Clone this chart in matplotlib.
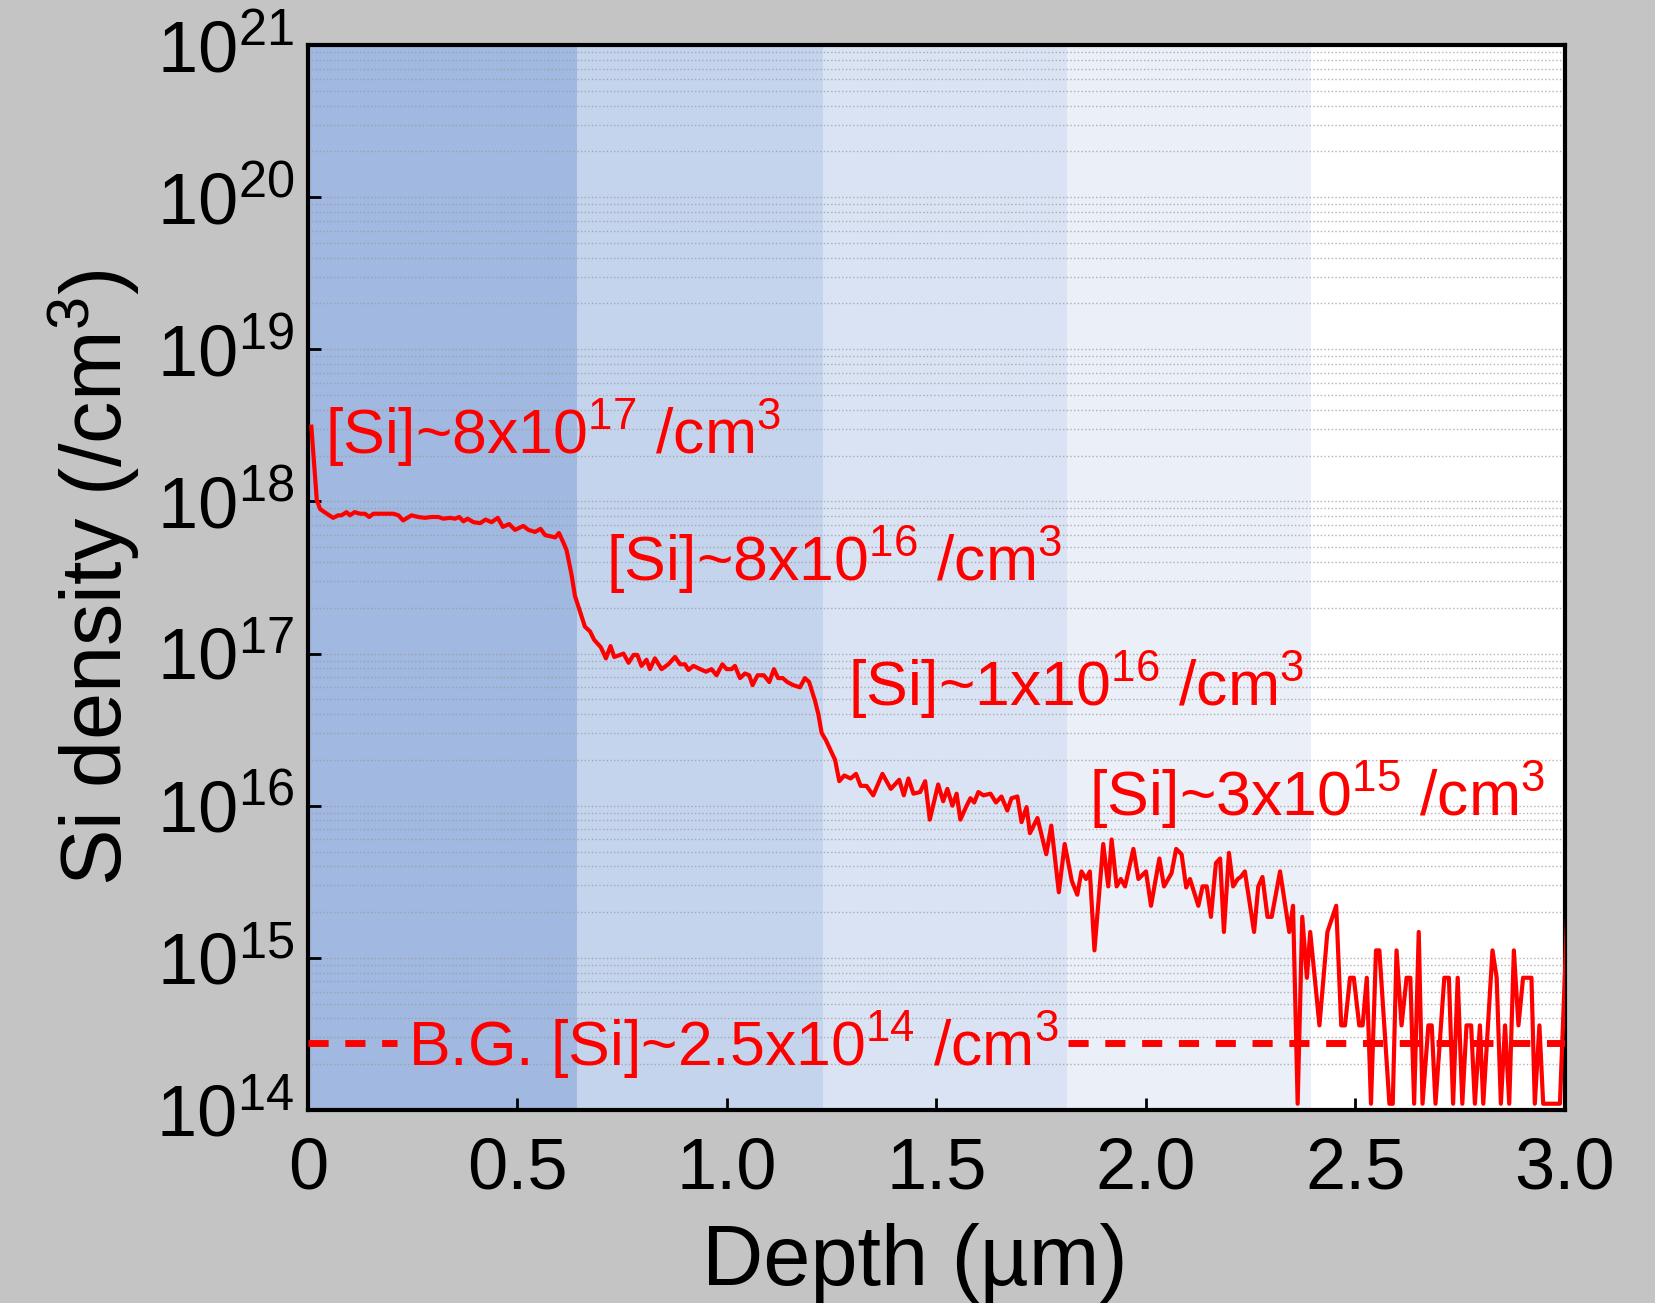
#!/usr/bin/env python
"""
Si depth profile (SIMS) with shaded layers
"""

import math
import matplotlib
matplotlib.use('Agg')
import matplotlib.pyplot as plt
from matplotlib.ticker import FixedLocator, FixedFormatter, LogLocator, NullFormatter, FuncFormatter

# depth (um) and Si density (/cm3)
depth = [0.008, 0.021, 0.029, 0.045, 0.060, 0.072, 0.080, 0.092, 0.100, 0.111,
         0.124, 0.136, 0.146, 0.156, 0.172, 0.188, 0.204, 0.216, 0.227, 0.247,
         0.263, 0.279, 0.295, 0.311, 0.323, 0.339, 0.351, 0.361, 0.371, 0.381,
         0.395, 0.411, 0.424, 0.438, 0.453, 0.465, 0.480, 0.494, 0.514, 0.526,
         0.542, 0.555, 0.566, 0.579, 0.590, 0.599, 0.609, 0.617, 0.629, 0.637,
         0.649, 0.661, 0.673, 0.683, 0.699, 0.711, 0.722, 0.731, 0.745, 0.753,
         0.765, 0.777, 0.786, 0.796, 0.808, 0.816, 0.828, 0.844, 0.860, 0.876,
         0.888, 0.900, 0.908, 0.920, 0.936, 0.950, 0.963, 0.975, 0.989, 0.999,
         1.011, 1.019, 1.031, 1.043, 1.053, 1.061, 1.073, 1.088, 1.101, 1.112,
         1.122, 1.133, 1.144, 1.158, 1.174, 1.186, 1.196, 1.210, 1.218, 1.226,
         1.236, 1.258, 1.268, 1.280, 1.295, 1.308, 1.319, 1.333, 1.349, 1.371,
         1.391, 1.411, 1.422, 1.433, 1.445, 1.461, 1.473, 1.484, 1.504, 1.516,
         1.526, 1.538, 1.548, 1.557, 1.572, 1.581, 1.590, 1.600, 1.612, 1.629,
         1.642, 1.655, 1.669, 1.679, 1.693, 1.703, 1.715, 1.723, 1.741, 1.762,
         1.774, 1.792, 1.806, 1.823, 1.836, 1.846, 1.857, 1.866, 1.877, 1.898,
         1.910, 1.918, 1.930, 1.940, 1.950, 1.970, 1.982, 2.000, 2.012, 2.032,
         2.043, 2.061, 2.072, 2.085, 2.096, 2.105, 2.125, 2.135, 2.145, 2.155,
         2.167, 2.177, 2.186, 2.198, 2.208, 2.219, 2.226, 2.236, 2.258, 2.268,
         2.278, 2.290, 2.300, 2.320, 2.342, 2.351, 2.362, 2.373, 2.384, 2.392,
         2.414, 2.433, 2.454, 2.466, 2.475, 2.487, 2.496, 2.509, 2.517, 2.527,
         2.537, 2.549, 2.557, 2.581, 2.589, 2.598, 2.610, 2.622, 2.631, 2.640,
         2.651, 2.660, 2.674, 2.682, 2.691, 2.712, 2.723, 2.733, 2.744, 2.755,
         2.765, 2.776, 2.785, 2.797, 2.805, 2.827, 2.837, 2.847, 2.857, 2.867,
         2.878, 2.889, 2.900, 2.920, 2.928, 2.939, 2.948, 2.988, 3.005]

si = [3.1e18, 1.02e18, 8.9e17, 8.3e17, 7.8e17, 8.1e17, 8.1e17, 8.5e17, 8.1e17, 8.5e17,
      8.3e17, 8.3e17, 7.9e17, 8.3e17, 8.3e17, 8.3e17, 8.3e17, 8.1e17, 7.5e17, 8.1e17,
      7.9e17, 7.8e17, 7.9e17, 7.9e17, 7.7e17, 7.8e17, 7.7e17, 7.9e17, 7.4e17, 7.7e17,
      7.3e17, 7.2e17, 7.6e17, 7.3e17, 7.8e17, 6.8e17, 7.1e17, 6.5e17, 6.9e17, 6.5e17,
      6.3e17, 6.6e17, 6.0e17, 5.9e17, 5.8e17, 6.2e17, 5.4e17, 4.8e17, 3.3e17, 2.4e17,
      1.9e17, 1.5e17, 1.4e17, 1.23e17, 1.10e17, 9.3e16, 1.12e17, 9.5e16, 9.8e16, 1.0e17,
      8.7e16, 9.8e16, 9.8e16, 8.3e16, 9.1e16, 7.9e16, 9.3e16, 7.9e16, 8.5e16, 9.5e16,
      8.5e16, 8.5e16, 7.8e16, 8.3e16, 7.9e16, 7.6e16, 7.9e16, 7.2e16, 8.5e16, 7.9e16,
      7.9e16, 8.3e16, 6.9e16, 7.4e16, 7.2e16, 6.2e16, 7.2e16, 7.2e16, 6.5e16, 7.9e16,
      6.9e16, 6.9e16, 6.5e16, 6.2e16, 6.0e16, 6.9e16, 6.5e16, 4.9e16, 4.0e16, 3.0e16,
      2.7e16, 2.0e16, 1.45e16, 1.58e16, 1.51e16, 1.62e16, 1.35e16, 1.35e16, 1.17e16, 1.62e16,
      1.29e16, 1.48e16, 1.17e16, 1.51e16, 1.20e16, 1.23e16, 1.45e16, 8.1e15, 1.38e16, 1.07e16,
      1.29e16, 1.0e16, 1.20e16, 8.1e15, 1.0e16, 1.12e16, 1.05e16, 1.23e16, 1.17e16, 1.20e16,
      1.05e16, 1.15e16, 9.3e15, 1.12e16, 1.15e16, 7.8e15, 9.8e15, 6.6e15, 8.3e15, 4.8e15,
      7.4e15, 2.7e15, 5.6e15, 3.2e15, 2.6e15, 3.7e15, 3.3e15, 3.7e15, 1.12e15, 5.6e15,
      2.95e15, 6.0e15, 2.95e15, 3.3e15, 2.95e15, 5.2e15, 3.3e15, 3.7e15, 2.2e15, 4.5e15,
      2.95e15, 3.6e15, 5.2e15, 4.8e15, 2.9e15, 3.3e15, 2.2e15, 2.95e15, 2.95e15, 1.86e15,
      4.2e15, 4.5e15, 1.48e15, 4.9e15, 2.95e15, 3.3e15, 3.4e15, 3.7e15, 1.48e15, 2.95e15,
      3.4e15, 1.86e15, 1.86e15, 3.7e15, 1.48e15, 2.2e15, 1.1e14, 1.86e15, 7.4e14, 1.48e15,
      3.6e14, 1.48e15, 2.2e15, 3.6e14, 3.6e14, 7.4e14, 7.4e14, 3.6e14, 3.6e14, 7.4e14,
      1.1e14, 1.12e15, 1.12e15, 1.1e14, 1.1e14, 1.12e15, 3.6e14, 7.4e14, 7.4e14, 1.1e14,
      1.48e15, 1.1e14, 3.6e14, 3.6e14, 1.1e14, 7.4e14, 7.4e14, 1.1e14, 7.4e14, 1.1e14,
      3.6e14, 3.6e14, 1.1e14, 3.6e14, 1.1e14, 1.12e15, 7.4e14, 1.1e14, 3.6e14, 1.1e14,
      1.12e15, 3.6e14, 7.4e14, 7.4e14, 1.1e14, 3.6e14, 1.1e14, 1.1e14, 1.86e15]

# shaded layers
band_edges = [0.0, 0.643, 1.229, 1.811, 2.395, 3.0]
band_colors = ['#a1b8e0', '#c5d4ed', '#dae3f3', '#eaeff8', '#ffffff']

# background level
bg_level = 2.75e14
bg_spans = [(0.0, 0.212), (1.814, 3.0)]

# annotations: (x, y, text)
labels = [
    (0.040, 2.07e18, '[Si]~8x10$^{17}$ /cm$^{3}$'),
    (0.711, 3.0e17, '[Si]~8x10$^{16}$ /cm$^{3}$'),
    (1.289, 4.55e16, '[Si]~1x10$^{16}$ /cm$^{3}$'),
    (1.864, 8.6e15, '[Si]~3x10$^{15}$ /cm$^{3}$'),
    (0.238, 1.95e14, 'B.G. [Si]~2.5x10$^{14}$ /cm$^{3}$'),
]

xticks = [0, 0.5, 1.0, 1.5, 2.0, 2.5, 3.0]
xticklabels = ['0', '0.5', '1.0', '1.5', '2.0', '2.5', '3.0']


def log_label(v, pos):
    return '$10^{%d}$' % round(math.log10(v))


def main():
    plt.rcParams['font.family'] = ['Liberation Sans', 'DejaVu Sans']
    plt.rcParams['mathtext.fontset'] = 'custom'
    plt.rcParams['mathtext.rm'] = 'Liberation Sans'
    plt.rcParams['mathtext.it'] = 'Liberation Sans'
    plt.rcParams['mathtext.bf'] = 'Liberation Sans'

    fig = plt.figure(figsize=(16.55, 13.03), dpi=100, facecolor='#c4c4c4')
    ax = fig.add_axes([0.1861, 0.1481, 0.7595, 0.8174])

    for i in range(len(band_colors)):
        ax.axvspan(band_edges[i], band_edges[i + 1], color=band_colors[i], lw=0, zorder=0)

    ax.set_yscale('log')
    ax.set_xlim(0, 3.0)
    ax.set_ylim(1e14, 1e21)

    ax.set_axisbelow(True)
    ax.yaxis.set_major_locator(LogLocator(base=10, numticks=20))
    ax.yaxis.set_minor_locator(LogLocator(base=10, subs=range(2, 10), numticks=20))
    ax.yaxis.set_minor_formatter(NullFormatter())
    ax.yaxis.set_major_formatter(FuncFormatter(log_label))
    ax.grid(True, axis='y', which='both', color='#9a9a9a', linestyle=':', linewidth=1.0, alpha=0.75)

    ax.plot(depth, si, color='#ff0000', lw=3.0, zorder=3)

    for x0, x1 in bg_spans:
        ax.plot([x0, x1], [bg_level, bg_level], color='#ff0000', lw=5.0,
                linestyle=(0, (2.9, 2.4)), zorder=3)

    for x, y, s in labels:
        ax.text(x, y, s, color='#ff0000', fontsize=45, ha='left', va='baseline', zorder=4)

    ax.xaxis.set_major_locator(FixedLocator(xticks))
    ax.xaxis.set_major_formatter(FixedFormatter(xticklabels))

    ax.tick_params(axis='both', which='major', direction='in', length=9, width=2,
                   labelsize=52, colors='black')
    ax.tick_params(axis='x', pad=19)
    ax.tick_params(axis='y', pad=10)
    ax.tick_params(axis='y', which='minor', length=0)

    for sp in ax.spines.values():
        sp.set_linewidth(3)
        sp.set_color('black')

    ax.set_xlabel('Depth (µm)', fontsize=61, labelpad=14)
    ax.xaxis.label.set_x(0.4825)
    ax.set_ylabel('Si density (/cm$^{3}$)', fontsize=61, labelpad=10)

    fig.savefig('out.png', dpi=100, facecolor=fig.get_facecolor())


# --------------------
if __name__ == '__main__':
    main()
